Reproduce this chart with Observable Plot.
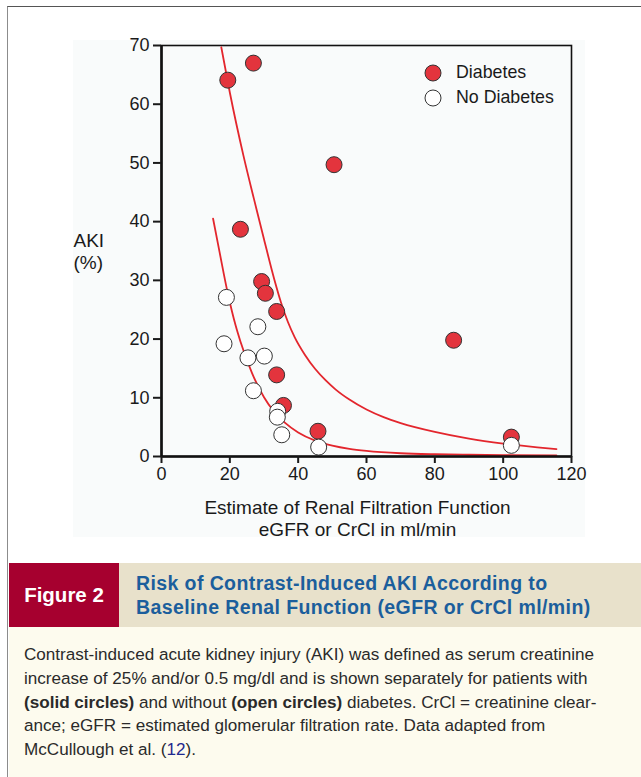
<!DOCTYPE html>
<html>
<head>
<meta charset="utf-8">
<script src="https://cdn.jsdelivr.net/npm/d3@7"></script>
<script src="https://cdn.jsdelivr.net/npm/@observablehq/plot@0.6"></script>
<style>
  html, body { margin: 0; padding: 0; background: #fff; }
  body { width: 641px; height: 777px; position: relative; overflow: hidden; font-family: "Liberation Sans", Arial, sans-serif; }
  .frame { position: absolute; left: 7px; top: 6px; right: -2px; bottom: -2px; border-left: 1.5px solid #8c8c8c; border-top: 1.5px solid #555; }
  .panel { position: absolute; left: 73px; top: 40px; width: 512px; height: 497px; background: #f9fbfb; }
  #chart { position: absolute; left: 73px; top: 40px; }
  .legend { position: absolute; left: 423px; top: 60px; font-size: 17.8px; color: #1a1a1a; }
  .legend .row { display: flex; align-items: center; height: 25px; }
  .legend svg { margin-right: 13px; }
  .figbox { position: absolute; left: 9px; top: 563px; width: 110px; height: 64px; background: #a6002f; color: #fff; font-weight: bold; font-size: 20.5px; display: flex; align-items: center; justify-content: center; }
  .banner { position: absolute; left: 119px; top: 563px; right: 0; height: 64px; background: #e8e1cb; }
  .banner .t { position: absolute; left: 17px; top: 8px; color: #1b5e9c; font-weight: bold; font-size: 19.5px; letter-spacing: 0.4px; line-height: 24px; white-space: nowrap; }
  .caption { position: absolute; left: 9px; top: 627px; right: 0; bottom: 0; background: #fdfbee; }
  .caption .c { position: absolute; left: 15px; top: 16px; font-size: 17.1px; line-height: 23.8px; color: #2a2a2a; white-space: nowrap; }
  .caption a { color: #1f2a8f; text-decoration: none; }
</style>
</head>
<body>
<div class="frame"></div>
<div class="panel"></div>
<div id="chart"></div>
<div class="legend">
  <div class="row"><svg width="20" height="20"><circle cx="10" cy="10" r="8" fill="#e3343d" stroke="#333" stroke-width="1"/></svg><span>Diabetes</span></div>
  <div class="row"><svg width="20" height="20"><circle cx="10" cy="10" r="8" fill="#fff" stroke="#333" stroke-width="1"/></svg><span>No Diabetes</span></div>
</div>
<div class="figbox">Figure 2</div>
<div class="banner"><div class="t">Risk of Contrast-Induced AKI According to<br>Baseline Renal Function (eGFR or CrCl ml/min)</div></div>
<div class="caption"><div class="c">Contrast-induced acute kidney injury (AKI) was defined as serum creatinine<br>increase of 25% and/or 0.5 mg/dl and is shown separately for patients with<br><b>(solid circles)</b> and without <b>(open circles)</b> diabetes. CrCl = creatinine clear-<br>ance; eGFR = estimated glomerular filtration rate. Data adapted from<br>McCullough et al. (<a>12</a>).</div></div>
<script>
// ---- data ----
const xTicks = [0, 20, 40, 60, 80, 100, 120];
const yTicks = [0, 10, 20, 30, 40, 50, 60, 70];
const xLabel = "Estimate of Renal Filtration Function\neGFR or CrCl in ml/min";
const yLabel = "AKI\n(%)";

const diabetesX = [19.4, 26.9, 50.5, 23.1, 29.3, 30.4, 33.7, 33.7, 35.7, 45.8, 85.5, 102.4];
const diabetesY = [64.1, 67.0, 49.7, 38.7, 29.8, 27.8, 24.7, 13.9, 8.7, 4.3, 19.8, 3.3];

const noDiabetesX = [19.0, 28.2, 18.3, 25.3, 30.1, 26.9, 34.0, 33.9, 35.2, 46.0, 102.4];
const noDiabetesY = [27.1, 22.1, 19.2, 16.8, 17.1, 11.2, 7.7, 6.7, 3.7, 1.6, 1.9];

const upperX = [17.5, 20, 24, 27, 30, 33, 35, 37, 39, 42, 45, 48, 51, 55, 60, 65, 70, 80, 90, 100, 110, 115.6];
const upperY = [69.7, 62, 51.2, 44, 37, 30.2, 26.2, 22.9, 20.3, 17.3, 14.9, 13.0, 11.4, 9.7, 8.0, 6.7, 5.7, 4.2, 3.05, 2.2, 1.55, 1.25];

const lowerX = [15.1, 17, 19.4, 21.7, 23.1, 26.5, 30, 33, 36, 40, 45, 50, 55, 60, 70, 80, 90, 100, 115.6];
const lowerY = [40.5, 34.8, 27.8, 22.3, 19.6, 14.2, 10.1, 7.6, 5.8, 4.1, 2.7, 1.85, 1.3, 0.95, 0.55, 0.38, 0.3, 0.25, 0.2];

const zip = (xs, ys) => xs.map((x, i) => ({x, y: ys[i]}));
const diabetes = zip(diabetesX, diabetesY);
const noDiabetes = zip(noDiabetesX, noDiabetesY);
const upper = zip(upperX, upperY);
const lower = zip(lowerX, lowerY);

const red = "#e3343d";
const curveRed = "#e3262d";

const chart = Plot.plot({
  width: 512,
  height: 505,
  marginLeft: 88,
  marginRight: 14,
  marginTop: 5,
  marginBottom: 89,
  x: {domain: [0, 120]},
  y: {domain: [0, 70]},
  style: {fontFamily: "'Liberation Sans', Arial, sans-serif", fontSize: "18px", color: "#1a1a1a", background: "transparent", overflow: "visible"},
  marks: [
    Plot.frame({stroke: "#111", strokeWidth: 1.6}),
    Plot.line(upper, {x: "x", y: "y", stroke: curveRed, strokeWidth: 1.8, curve: "monotone-x"}),
    Plot.line(lower, {x: "x", y: "y", stroke: curveRed, strokeWidth: 1.8, curve: "monotone-x"}),
    Plot.dot(diabetes, {x: "x", y: "y", r: 8, fill: red, stroke: "#333", strokeWidth: 1}),
    Plot.dot(noDiabetes, {x: "x", y: "y", r: 8, fill: "#fff", stroke: "#333", strokeWidth: 1}),
    Plot.ruleX([0], {stroke: "#111", strokeWidth: 2.6}),
    Plot.ruleY([0], {stroke: "#111", strokeWidth: 2.6}),
    Plot.axisX({ticks: xTicks, tickSize: 7, tickPadding: 4, strokeWidth: 2, label: null, fontSize: 18}),
    Plot.axisY({ticks: yTicks, tickSize: 8, tickPadding: 4, strokeWidth: 2, label: null, fontSize: 18}),
    Plot.text([xLabel], {text: d => d, frameAnchor: "bottom", lineAnchor: "top", dy: 41, dx: -9, fontSize: 19, lineHeight: 1.2}),
    Plot.text([yLabel], {text: d => d, frameAnchor: "left", textAnchor: "start", lineAnchor: "middle", dx: -88, fontSize: 19, lineHeight: 1.15})
  ]
});
document.getElementById("chart").appendChild(chart);
</script>
</body>
</html>
